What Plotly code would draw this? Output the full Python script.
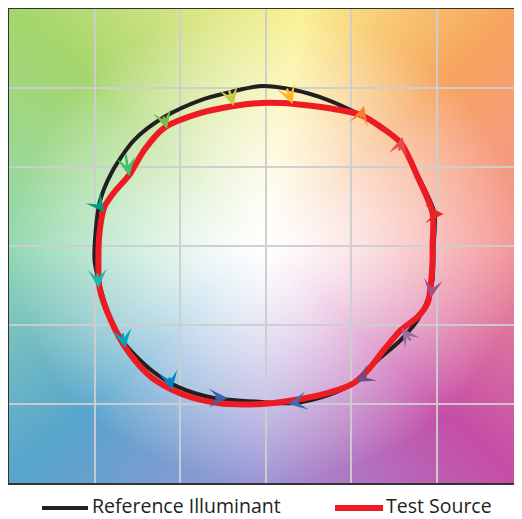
import base64, struct, zlib
import numpy as np
import plotly.graph_objects as go

# ---------------- data (normalized a'/b' coordinates) ----------------
ref_x = [0.983, 0.988, 0.895, 0.791, 0.674, 0.558, 0.366, 0.169, -0.023, -0.203, -0.378, -0.593,
         -0.767, -0.901, -0.971, -0.994, -1.000, -0.977, -0.919, -0.826, -0.669, -0.512, -0.302,
         -0.023, 0.169, 0.366, 0.517, 0.657, 0.791, 0.890, 0.948, 0.977]
ref_y = [0.000, 0.209, 0.437, 0.652, 0.759, 0.829, 0.924, 0.987, 1.013, 0.975, 0.924, 0.816,
         0.671, 0.462, 0.272, 0.082, -0.089, -0.215, -0.424, -0.614, -0.785, -0.892, -0.962,
         -0.987, -0.994, -0.943, -0.867, -0.722, -0.595, -0.468, -0.342, -0.215]

test_x = [0.977, 0.977, 0.890, 0.791, 0.674, 0.558, 0.366, 0.169, -0.023, -0.186, -0.378, -0.593,
          -0.709, -0.797, -0.884, -0.942, -0.971, -0.977, -0.971, -0.903, -0.805, -0.669, -0.494,
          -0.279, -0.023, 0.169, 0.366, 0.517, 0.599, 0.692, 0.791, 0.890, 0.948, 0.965, 0.977]
test_y = [0.000, 0.209, 0.437, 0.652, 0.753, 0.829, 0.873, 0.899, 0.905, 0.886, 0.842, 0.747,
          0.608, 0.449, 0.342, 0.247, 0.082, -0.089, -0.262, -0.475, -0.665, -0.830, -0.935,
          -0.994, -1.000, -0.975, -0.930, -0.867, -0.785, -0.658, -0.532, -0.449, -0.361, -0.259, -0.089]

# hue-bin arrows: reference point (tail) -> test point (head)
bin_tail_x = [0.959, 0.779, 0.552, 0.122, -0.215, -0.599, -0.820, -0.988,
              -0.983, -0.837, -0.564, -0.302, 0.198, 0.599, 0.855, 0.977]
bin_tail_y = [0.203, 0.595, 0.797, 1.006, 0.994, 0.829, 0.589, 0.278,
              -0.165, -0.544, -0.823, -0.962, -0.987, -0.816, -0.608, -0.247]
bin_head_x = [1.041, 0.802, 0.576, 0.157, -0.186, -0.576, -0.797, -0.942,
              -0.977, -0.820, -0.547, -0.221, 0.134, 0.529, 0.797, 0.965]
bin_head_y = [0.203, 0.690, 0.886, 0.899, 0.886, 0.741, 0.443, 0.215,
              -0.266, -0.646, -0.911, -0.962, -1.000, -0.861, -0.519, -0.329]
bin_colors = ["#e62828", "#e74b4b", "#fb812e", "#ffb529", "#cbca46", "#7eb94c", "#41c06d", "#009c7c",
              "#16bcb0", "#00a4bf", "#0085c3", "#3b62aa", "#4568ae", "#6a4e85", "#9d69a1", "#a74f81"]

grid_ticks = [-1.5, -1.0, -0.5, 0.0, 0.5, 1.0, 1.5]

# background hue ring (decorative)
bg_angles = [0, 30, 45, 65, 82, 100, 135, 180, 225, 270, 315, 360]
bg_colors = [(245, 150, 150), (246, 158, 118), (246, 165, 95), (249, 205, 120), (250, 242, 148),
             (228, 234, 140), (165, 214, 110), (148, 218, 180), (88, 165, 205), (160, 150, 215),
             (198, 78, 168), (245, 150, 150)]

# ---------------- background image ----------------
N = 260
xs = np.linspace(-1.5, 1.5, N)
ys = np.linspace(1.5, -1.5, N)
X, Y = np.meshgrid(xs, ys)
ang = np.degrees(np.arctan2(Y, X)) % 360
rad = np.hypot(X, Y)
t = np.clip(rad / 1.5, 0, 1) ** 1.35
img = np.zeros((N, N, 3))
bc = np.array(bg_colors, dtype=float)
for c in range(3):
    ring = np.interp(ang, bg_angles, bc[:, c])
    img[:, :, c] = 255 * (1 - t) + ring * t
img = np.clip(img, 0, 255).astype(np.uint8)


def png_bytes(a):
    h, w, _ = a.shape
    raw = b"".join(b"\x00" + a[i].tobytes() for i in range(h))

    def chunk(tag, data):
        return (struct.pack(">I", len(data)) + tag + data +
                struct.pack(">I", zlib.crc32(tag + data) & 0xFFFFFFFF))
    return (b"\x89PNG\r\n\x1a\n" +
            chunk(b"IHDR", struct.pack(">IIBBBBB", w, h, 8, 2, 0, 0, 0)) +
            chunk(b"IDAT", zlib.compress(raw, 9)) + chunk(b"IEND", b""))


src = "data:image/png;base64," + base64.b64encode(png_bytes(img)).decode()

# ---------------- figure ----------------
fig = go.Figure()
fig.add_trace(go.Scatter(x=ref_x + ref_x[:1], y=ref_y + ref_y[:1], mode="lines",
                         name="Reference Illuminant",
                         line=dict(color="#231f20", width=4, shape="spline", smoothing=0.8),
                         showlegend=False, hoverinfo="skip"))
fig.add_trace(go.Scatter(x=test_x + test_x[:1], y=test_y + test_y[:1], mode="lines",
                         name="Test Source",
                         line=dict(color="#ed1c24", width=6, shape="spline", smoothing=0.8),
                         showlegend=False, hoverinfo="skip"))

for tx, ty, hx, hy, col in zip(bin_tail_x, bin_tail_y, bin_head_x, bin_head_y, bin_colors):
    fig.add_annotation(x=hx, y=hy, ax=tx, ay=ty, xref="x", yref="y", axref="x", ayref="y",
                       text="", showarrow=True, arrowhead=3, arrowsize=1.25, arrowwidth=2.5,
                       arrowcolor=col, standoff=0)

fig.add_layout_image(dict(source=src, xref="x", yref="y", x=-1.5, y=1.5, sizex=3, sizey=3,
                          sizing="stretch", layer="below"))

# page offset (body margin) is 8px; figure laid out in its own pixel coords
W, H = 514, 511
L, R, T, B = 1, 0, 1, 36
pw, ph = W - L - R, H - T - B
OFF = 8


def px(p):
    return (p - OFF - L) / pw


def py(p):
    return (H - B - (p - OFF)) / ph


fig.add_shape(type="line", xref="paper", yref="paper", x0=px(42), x1=px(88), y0=py(508), y1=py(508),
              line=dict(color="#231f20", width=4))
fig.add_shape(type="line", xref="paper", yref="paper", x0=px(335), x1=px(383), y0=py(508), y1=py(508),
              line=dict(color="#ed1c24", width=6))
fig.add_annotation(x=px(90), y=py(505), xref="paper", yref="paper", text="Reference Illuminant",
                   showarrow=False, xanchor="left", yanchor="middle",
                   font=dict(family="Open Sans", size=19.5, color="#231f20"))
fig.add_annotation(x=px(384), y=py(505), xref="paper", yref="paper", text="Test Source",
                   showarrow=False, xanchor="left", yanchor="middle",
                   font=dict(family="Open Sans", size=19.5, color="#231f20"))

axis_common = dict(range=[-1.5, 1.5], tickvals=grid_ticks, showticklabels=False, ticks="",
                   showgrid=True, gridcolor="rgba(205,205,205,0.95)", gridwidth=1.5,
                   zeroline=False, fixedrange=True)
fig.update_xaxes(**axis_common, showline=True, linecolor="#333333", linewidth=2, mirror=True)
fig.update_yaxes(**axis_common, showline=True, linecolor="#333333", linewidth=2, mirror=False)

fig.update_layout(width=W, height=H, margin=dict(l=L, r=R, t=T, b=B),
                  paper_bgcolor="white", plot_bgcolor="white", showlegend=False)

fig.write_html("out.html")
